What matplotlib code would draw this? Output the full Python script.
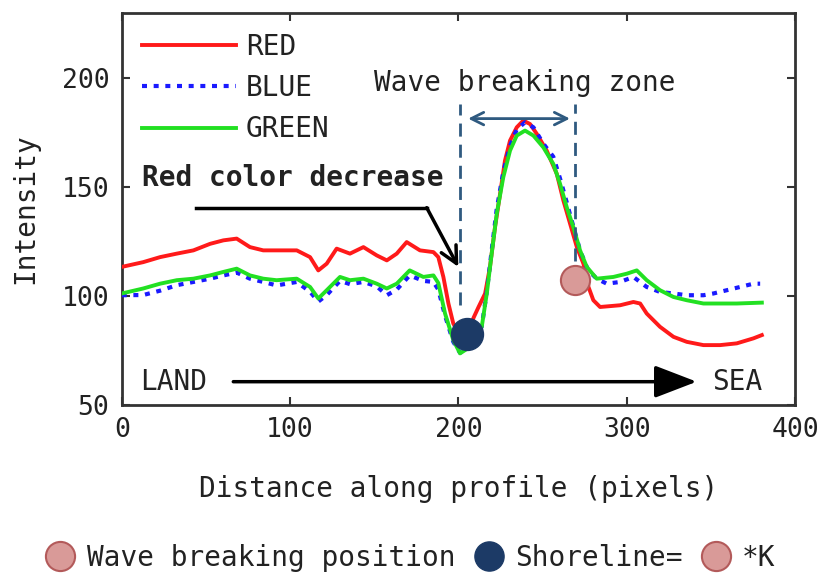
import matplotlib
matplotlib.use('Agg')
import matplotlib.pyplot as plt
from matplotlib.lines import Line2D

# ---------------- data ----------------
red_x = [0, 12.8, 22.8, 32.7, 42.6, 52.5, 60.4, 68.3, 76.2, 84.1,
         92, 104, 111.9, 116.8, 121.8, 127.7, 135.6, 143.6, 151.5, 157.5,
         163.4, 169.3, 177.2, 185.2, 188.1, 191.1, 194.1, 197, 201, 205,
         209, 212, 215.9, 218.8, 221.8, 224.8, 227.7, 230.7, 234.7, 238.6,
         242.6, 246.6, 252.5, 258.5, 262.4, 266.4, 270.4, 274.3, 277.3, 280.2,
         284.2, 296.1, 304, 308, 311.9, 319.8, 327.8, 335.7, 345.6, 355.5,
         365.4, 375.3, 380.3]
red_y = [113.4, 115.6, 117.9, 119.5, 121, 124, 125.6, 126.4, 122.5, 121,
         121, 121, 117.9, 111.8, 114.9, 121.8, 119.5, 122.5, 118.7, 116.4,
         119.5, 124.8, 121, 120.2, 117.9, 108.8, 96.6, 87.4, 82, 81,
         90, 95, 101.2, 113.4, 131.7, 147, 162.2, 171.4, 177.5, 180.6,
         179, 174.5, 166.8, 156.1, 143.9, 133.2, 122.5, 114.9, 104.2, 98.1,
         95, 95.8, 97.3, 96.6, 92, 85.9, 81.3, 79, 77.5, 77.5,
         78.3, 80.6, 82.1]

green_x = [0, 12.8, 22.8, 32.7, 42.6, 52.5, 60.4, 68.3, 76.2, 84.1,
           92, 104, 111.9, 116.8, 121.8, 129.7, 135.6, 143.6, 151.5, 157.5,
           163.4, 171.1, 179.2, 185.2, 188.1, 192.1, 197, 201, 207, 213.9,
           216.9, 219.8, 222.8, 226.7, 230.7, 234.7, 239.6, 244.6, 250.5, 256.4,
           260.4, 264.4, 268.3, 272.3, 276.3, 282.2, 292.1, 300.1, 306, 311.9,
           319.8, 327.8, 335.7, 345.6, 355.5, 365.4, 380.3]
green_y = [101.2, 103.5, 105.7, 107.3, 108, 109.5, 111.1, 112.6, 109.5, 108,
           107.3, 108, 104.2, 98.9, 102.7, 108.8, 107.3, 108, 105.7, 103.5,
           105.7, 111.8, 108.8, 109.5, 106, 92, 79.8, 73.7, 76.7, 85.9,
           101.2, 119.5, 137.8, 154.6, 166.8, 173.7, 176, 173.7, 168.3, 160.7,
           151.6, 140.8, 131.7, 121, 113.4, 108, 108.8, 110.3, 111.8, 107.3,
           102.7, 99.6, 98.1, 96.6, 96.6, 96.6, 97]

blue_x = [0, 12.8, 22.8, 32.7, 42.6, 52.5, 60.4, 68.3, 76.2, 84.1,
          92, 104, 111.9, 116.8, 121.8, 129.7, 135.6, 143.6, 151.5, 157.5,
          163.4, 171.1, 179.2, 185.2, 188.1, 192.1, 197, 201, 207, 213.9,
          216.9, 219.8, 222.8, 226.7, 230.7, 234.7, 239.6, 244.6, 250.5, 256.4,
          260.4, 264.4, 268.3, 272.3, 277, 282.2, 288.2, 296.1, 304, 311.9,
          319.8, 327.8, 335.7, 345.6, 351.5, 359.5, 367.4, 375.3, 379.3]
blue_y = [100.4, 100.5, 102.5, 105, 106.5, 108, 109.5, 110.8, 108, 106.5,
          104.9, 106.5, 102, 97.5, 100.5, 107, 105.5, 106.5, 104.5, 100.4,
          103, 109.5, 107, 106.5, 103, 91, 79, 74, 76.5, 86,
          102, 121, 140, 157, 169, 176.5, 179.8, 177.5, 170, 164,
          154, 143, 132, 121, 112, 108, 105.7, 106.5, 108.8, 104.2,
          101.9, 101.2, 100.4, 100.4, 101.2, 102.7, 104.2, 105.7, 105.7]

shoreline_pt = (205, 82.8)
wave_break_pt = (269.3, 107.3)
zone_bounds = (201, 269.3)

x_ticks = [0, 100, 200, 300, 400]
y_ticks = [50, 100, 150, 200]

TXT = '#222222'
ZONE = '#2f5a80'
PINK = '#d99a98'
PINK_EDGE = '#b35a5a'
NAVY = '#1c3a66'

plt.rcParams['font.family'] = ['DejaVu Sans Mono']

fig = plt.figure(figsize=(8.24, 5.77), dpi=100)
ax = fig.add_axes([0.1477, 0.2981, 0.8171, 0.6794])

ax.plot(red_x, red_y, color='#ff1a1a', lw=2.8, label='RED', zorder=3)
ax.plot(blue_x, blue_y, color='#1a1aff', lw=3, dashes=(1.2, 1.6), label='BLUE', zorder=4)
ax.plot(green_x, green_y, color='#22e022', lw=2.8, label='GREEN', zorder=5)

ax.set_xlim(0, 400)
ax.set_ylim(50, 230)
ax.set_xticks(x_ticks)
ax.set_yticks(y_ticks)
ax.tick_params(direction='in', top=True, right=True, length=6, width=1.5,
               labelsize=19, colors='#333333', labelcolor=TXT, pad=9)
for s in ax.spines.values():
    s.set_linewidth(2)
    s.set_color('#333333')

ax.set_xlabel('Distance along profile (pixels)', fontsize=20, color=TXT, labelpad=23)
ax.set_ylabel('Intensity', fontsize=20, color=TXT, labelpad=16)

leg = ax.legend(loc='upper left', bbox_to_anchor=(0.03, 0.95), frameon=False,
                fontsize=20, handlelength=3.4, handletextpad=0.35,
                labelspacing=0.48, borderaxespad=0, borderpad=0)
for t in leg.get_texts():
    t.set_color(TXT)

# wave breaking zone
for xb, ytop, ybot in [(zone_bounds[0], 188.3, 96), (zone_bounds[1], 188.3, 116)]:
    ax.plot([xb, xb], [ybot, ytop], color=ZONE, lw=2, dashes=(4.7, 2.9), zorder=6)
ax.annotate('', xy=(zone_bounds[1] - 3, 181.5), xytext=(zone_bounds[0] + 4.8, 181.5),
            arrowprops=dict(arrowstyle='<->,head_length=0.9,head_width=0.45',
                            color=ZONE, lw=2, shrinkA=0, shrinkB=0), zorder=6)
ax.text(239.6, 198, 'Wave breaking zone', ha='center', va='center', fontsize=20, color=TXT)

# red color decrease
ax.text(12.1, 154, 'Red color decrease', ha='left', va='center', fontsize=20,
        fontweight='bold', color=TXT)
ax.plot([44.2, 181.2], [140.6, 140.6], color='black', lw=2.5, zorder=6)
ax.annotate('', xy=(200, 113.4), xytext=(181.2, 140.6),
            arrowprops=dict(arrowstyle='->,head_length=1.2,head_width=0.6',
                            color='black', lw=2.5, shrinkA=0, shrinkB=0), zorder=6)

# LAND -> SEA
ax.text(10.9, 60.7, 'LAND', ha='left', va='center', fontsize=20, color=TXT)
ax.text(350.7, 60.7, 'SEA', ha='left', va='center', fontsize=20, color=TXT)
ax.annotate('', xy=(341.6, 60.7), xytext=(66.3, 60.7),
            arrowprops=dict(arrowstyle='-|>,head_length=2.6,head_width=1.0',
                            color='black', lw=2.5, shrinkA=0, shrinkB=0))

# points
ax.plot([shoreline_pt[0]], [shoreline_pt[1]], 'o', ms=23, mfc=NAVY, mec=NAVY, zorder=8)
ax.plot([wave_break_pt[0]], [wave_break_pt[1]], 'o', ms=21, mfc=PINK, mec=PINK_EDGE,
        mew=1.5, zorder=8)

# bottom legend
handles = [Line2D([], [], ls='none', marker='o', ms=21, mfc=PINK, mec=PINK_EDGE, mew=1.5),
           Line2D([], [], ls='none', marker='o', ms=21, mfc=NAVY, mec=NAVY),
           Line2D([], [], ls='none', marker='o', ms=21, mfc=PINK, mec=PINK_EDGE, mew=1.5)]
labels = ['Wave breaking position', 'Shoreline=', '*K']
fl = fig.legend(handles, labels, loc='center', bbox_to_anchor=(411 / 824, 0.033),
                ncol=3, frameon=False, fontsize=20, handlelength=1.0,
                handletextpad=0.45, columnspacing=0.7, borderpad=0)
for t in fl.get_texts():
    t.set_color(TXT)

fig.savefig('out.png', dpi=100)
